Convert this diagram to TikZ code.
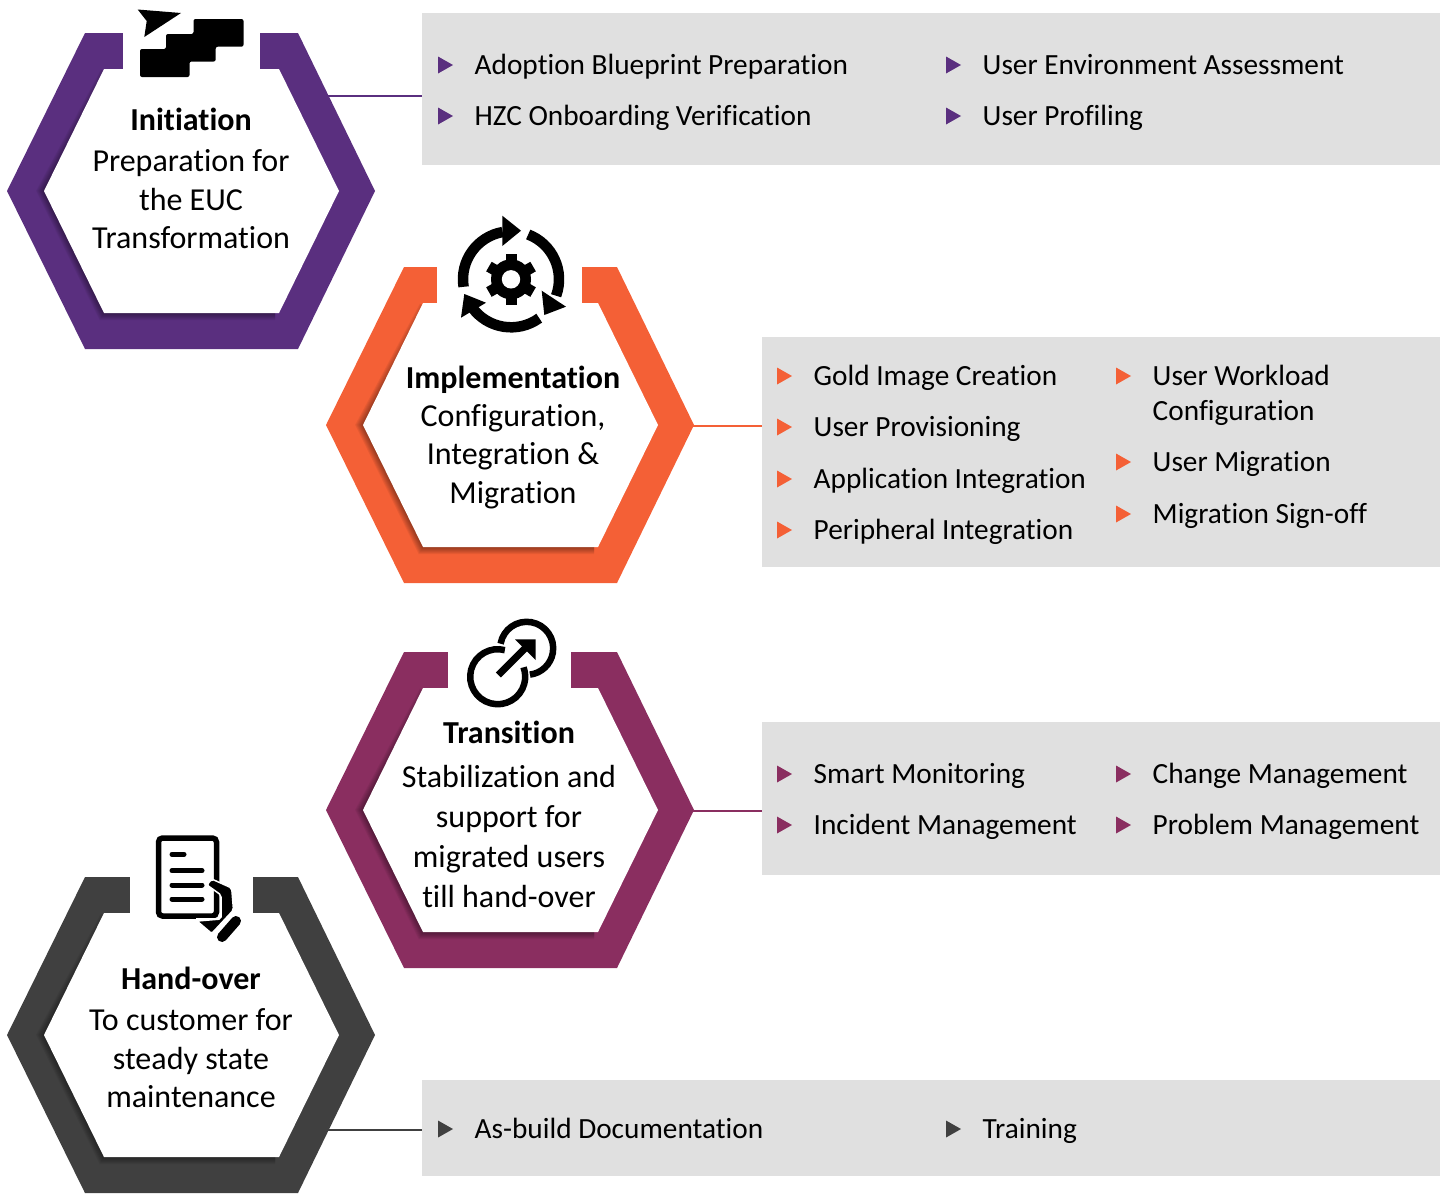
\documentclass[tikz,border=0pt]{standalone}
\usepackage{fontspec}
\setmainfont[Ligatures=NoCommon]{Carlito}
\definecolor{initc}{HTML}{5A2F7F}
\definecolor{implc}{HTML}{F46036}
\definecolor{tranc}{HTML}{8A2E60}
\definecolor{handc}{HTML}{404040}
\definecolor{panelc}{HTML}{E0E0E0}
\tikzset{
	panel/.style={fill=panelc,inner sep=0pt,anchor=north west},
	item/.style={inner sep=0pt,anchor=base west,font=\fontsize{29.3}{35}\selectfont},
	hexhead/.style={inner sep=0pt,anchor=base,font=\fontsize{32}{36}\selectfont\bfseries},
	hexbody/.style={inner sep=0pt,align=center},
	conn/.style={line width=2.5pt}
}
\begin{document}
\begin{tikzpicture}[x=1pt,y=-1pt,line join=miter]
	\useasboundingbox (0,0) rectangle (1447,1203);
	% grey panels
	\node[panel,minimum width=1018pt,minimum height=152pt] (panelinit) at (422,13) {};
	\node[panel,minimum width=678pt,minimum height=230pt] (panelimpl) at (762,337) {};
	\node[panel,minimum width=678pt,minimum height=153pt] (paneltran) at (762,722) {};
	\node[panel,minimum width=1018pt,minimum height=96pt] (panelhand) at (422,1080) {};
	% hexagons
	\foreach \nm/\cx/\cy/\gapl/\gapr/\col in {init/191/191/-68/69/initc,impl/510/425/-73/72/implc,tran/510/810/-62/61/tranc,hand/191/1035/-61/62/handc}{
		\begin{scope}[shift={(\cx,\cy)}]
			\fill[\col] (-184,0)--(-106,-158)--(107,-158)--(184,0)--(107,158)--(-106,158)--cycle;
			\foreach \w in {2,4,6,8,10,12,14}
				\draw[black,opacity=0.06,line width=\w pt] (-84,-118)--(-147,0)--(-87,122)--(84,122);
			\fill[white] (-147,0)--(-87,-122)--(88,-122)--(148,0)--(88,122)--(-87,122)--cycle;
			\fill[white] (\gapl,-160) rectangle (\gapr,-121);
			\coordinate (hex\nm) at (0,0);
		\end{scope}
	}
	% connectors
	\coordinate (startinit) at (328,96);
	\coordinate (startimpl) at (693,426);
	\coordinate (starttran) at (693,811);
	\coordinate (starthand) at (328,1130);
	\draw[conn,initc] (startinit)--(panelinit.west |- startinit);
	\draw[conn,implc] (startimpl)--(panelimpl.west |- startimpl);
	\draw[conn,tranc] (starttran)--(paneltran.west |- starttran);
	\draw[conn,handc] (starthand)--(panelhand.west |- starthand);
	% hexagon texts
	\node[hexhead] (headinit) at (191,130) {Initiation};
	\node[hexbody,font=\fontsize{32}{38.5}\selectfont] (bodyinit) at (191,199.5) {Preparation for\\the EUC\\Transformation};
	\node[hexhead] (headimpl) at (513,388) {Implementation};
	\node[hexbody,font=\fontsize{32}{38.5}\selectfont] (bodyimpl) at (513,456.5) {Configuration,\\Integration \&\\Migration};
	\node[hexhead] (headtran) at (509,743) {Transition};
	\node[hexbody,font=\fontsize{32}{40.3}\selectfont] (bodytran) at (509,836.5) {Stabilization and\\support for\\migrated users\\till hand-over};
	\node[hexhead] (headhand) at (191,989) {Hand-over};
	\node[hexbody,font=\fontsize{32}{38.5}\selectfont] (bodyhand) at (191,1058.5) {To customer for\\steady state\\maintenance};
	% bullet lists
	\foreach \x/\y/\col/\txt [count=\i] in {438/65/initc/Adoption Blueprint Preparation,438/116/initc/HZC Onboarding Verification,946/65/initc/User Environment Assessment,946/116/initc/User Profiling,
		777/376/implc/Gold Image Creation,777/427/implc/User Provisioning,777/479/implc/Application Integration,777/530/implc/Peripheral Integration,1116/376/implc/User Workload,1116/462/implc/User Migration,1116/514/implc/Migration Sign-off,
		777/774/tranc/Smart Monitoring,777/825/tranc/Incident Management,1116/774/tranc/Change Management,1116/825/tranc/Problem Management,
		438/1129/handc/As-build Documentation,946/1129/handc/Training}{
		\fill[\col] (\x,\y-8.5)--(\x+15,\y)--(\x,\y+8.5)--cycle;
		\node[item] (item\i) at (\x+36.5,\y+9) {\txt};
	}
	\node[item] (itemcont) at (1152.5,420) {Configuration};
	% stairs icon
	\fill[rounded corners=2pt] (140,49)--(166,49)--(166,34)--(193.5,34)--(193.5,19)--(243.5,19)--(243.5,46.7)--(215.7,46.7)--(215.7,61.5)--(189.5,61.5)--(189.5,77)--(140,77)--cycle;
	\fill (137.7,9.5)--(181,13)--(144.3,37)--(146.7,21)--cycle;
	% gear icon
	\coordinate (gearc) at (511,279.3);
	\fill (gearc) circle (20pt);
	\foreach \a in {30,90,150,210,270,330}
		\draw[line width=11pt] (gearc)--([shift={(\a:25.5pt)}]gearc);
	\fill[white] (gearc) circle (9.2pt);
	\draw[line width=10.5pt] ([shift={(189:48pt)}]gearc) arc[start angle=189,end angle=100,radius=48pt];
	\draw[line width=10.5pt] ([shift={(69:48pt)}]gearc) arc[start angle=69,end angle=-20,radius=48pt];
	\draw[line width=10.5pt] ([shift={(-54:48pt)}]gearc) arc[start angle=-54,end angle=-144,radius=48pt];
	\fill (502.3,215.7)--(521,230.7)--(502.3,246)--cycle;
	\fill (541.7,290.7)--(566,306.7)--(544.3,315)--cycle;
	\fill (464.3,294)--(486,302.7)--(461,317.7)--cycle;
	% link icon
	\coordinate (linka) at (497.7,676.7);
	\coordinate (linkb) at (526.7,648.3);
	\draw[line width=6.5pt] ([shift={(75:27.5pt)}]linka) arc[start angle=75,end angle=380,radius=27.5pt];
	\draw[line width=6.5pt] ([shift={(170:26.5pt)}]linkb) arc[start angle=170,end angle=-83,radius=26.5pt];
	\draw[line width=7pt] (498.3,675)--(530,643.3);
	\fill (515,639.3)--(535.7,639.3)--(535.7,660)--cycle;
	% document icon
	\draw[line width=5.5pt,rounded corners=4pt] (158.5,838) rectangle (216.5,916);
	\foreach \xa/\xb/\y in {172/184/854.3,172/202/870.7,172/202/885,172/202/899}
		\draw[line width=5pt,line cap=round] (\xa,\y)--(\xb,\y);
	\fill[white] (196,918) rectangle (222,922);
	\draw[fill=black,draw=white,line width=1.5pt,rounded corners=2pt] (207,885)--(211.7,879)--(231.7,888)--(233.5,910)--(211.7,933.5)--(197,921)--(221,919)--(221,895)--cycle;
	\draw[line width=10pt,line cap=round] (236,921)--(222,937);
\end{tikzpicture}
\end{document}
